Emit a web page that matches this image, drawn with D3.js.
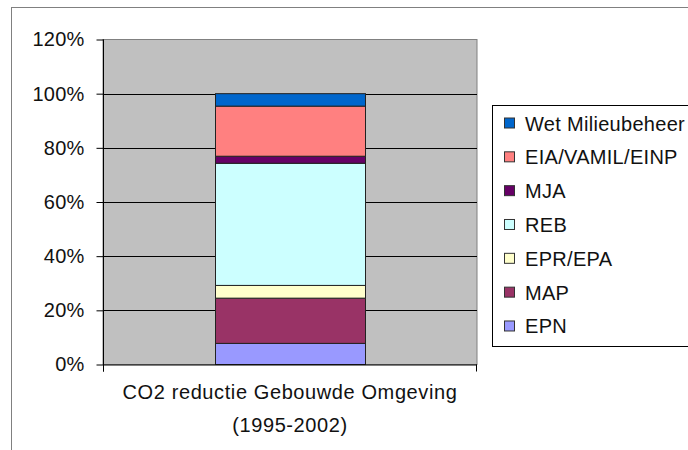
<!DOCTYPE html>
<html>
<head>
<meta charset="utf-8">
<script src="https://cdn.jsdelivr.net/npm/d3@7"></script>
<style>
  html, body { margin: 0; padding: 0; background: #fff; }
  svg { display: block; font-family: "Liberation Sans", Arial, sans-serif; }
</style>
</head>
<body>
<svg id="chart" width="688" height="450"></svg>
<script>
// ---- data ----
const categories = ["CO2 reductie Gebouwde Omgeving|(1995-2002)"];
const seriesNames = ["EPN", "MAP", "EPR/EPA", "REB", "MJA", "EIA/VAMIL/EINP", "Wet Milieubeheer"];
const seriesValues = [0.078, 0.167, 0.047, 0.451, 0.026, 0.185, 0.046];
const seriesColors = ["#9999FF", "#993366", "#FFFFCC", "#CCFFFF", "#660066", "#FF8080", "#0066CC"];
const yTicks = [0, 0.2, 0.4, 0.6, 0.8, 1.0, 1.2];
const yTickLabels = ["0%", "20%", "40%", "60%", "80%", "100%", "120%"];

const svg = d3.select("#chart");

// outer chart border
svg.append("rect").attr("x", 11.5).attr("y", 7.5).attr("width", 700).attr("height", 500)
  .attr("fill", "#fff").attr("stroke", "#808080").attr("stroke-width", 1);

const plot = { left: 103, right: 477, top: 39.5, bottom: 364.5 };

const y = d3.scaleLinear().domain([0, 1.2]).range([plot.bottom, plot.top]);
const x = d3.scaleBand().domain(categories).range([plot.left, plot.right]).padding(0.4275);

// plot area
svg.append("rect").attr("x", plot.left).attr("y", plot.top)
  .attr("width", plot.right - plot.left).attr("height", plot.bottom - plot.top)
  .attr("fill", "#C0C0C0").attr("stroke", "#808080").attr("stroke-width", 1);

// gridlines
svg.append("g").selectAll("line").data(yTicks.filter(d => d > 0 && d < 1.2)).join("line")
  .attr("x1", plot.left).attr("x2", plot.right)
  .attr("y1", d => Math.round(y(d)) + 0.5).attr("y2", d => Math.round(y(d)) + 0.5)
  .attr("stroke", "#000").attr("stroke-width", 1);

// stacked bar
const stackData = [Object.fromEntries([["cat", categories[0]], ...seriesNames.map((s, i) => [s, seriesValues[i]])])];
const stacked = d3.stack().keys(seriesNames)(stackData);
svg.append("g").selectAll("g").data(stacked).join("g")
  .attr("fill", (d, i) => seriesColors[i])
  .selectAll("rect").data(d => d).join("rect")
  .attr("x", d => Math.round(x(d.data.cat)) + 0.5)
  .attr("width", Math.round(x.bandwidth()))
  .attr("y", d => y(d[1]))
  .attr("height", d => y(d[0]) - y(d[1]))
  .attr("stroke", "#222").attr("stroke-width", 1);

// y axis
const yAxis = d3.axisLeft(y).tickValues(yTicks).tickFormat((d, i) => yTickLabels[i]).tickSize(7).tickPadding(12);
const yg = svg.append("g").attr("transform", `translate(${plot.left + 0.5},0)`).call(yAxis);
yg.select(".domain").remove();
yg.selectAll(".tick line").attr("stroke", "#000");
yg.selectAll(".tick text").attr("font-size", "20px").attr("fill", "#111")
  .attr("letter-spacing", "0.2px")
  .attr("font-family", "\"Liberation Sans\", Arial, sans-serif");
svg.append("line").attr("x1", plot.left + 0.5).attr("x2", plot.left + 0.5)
  .attr("y1", plot.top).attr("y2", plot.bottom + 7).attr("stroke", "#000");

// x axis
const xAxis = d3.axisBottom(x).tickSize(0).tickFormat("");
const xg = svg.append("g").attr("transform", `translate(0,${plot.bottom})`).call(xAxis);
xg.select(".domain").attr("stroke", "#000").attr("d", `M${plot.left},0.5H${plot.right}`);
[plot.left + 0.5, plot.right - 0.5].forEach(px => {
  svg.append("line").attr("x1", px).attr("x2", px).attr("y1", plot.bottom).attr("y2", plot.bottom + 7).attr("stroke", "#000");
});
const catText = svg.append("text")
  .attr("x", x(categories[0]) + x.bandwidth() / 2).attr("y", 399)
  .attr("text-anchor", "middle").attr("font-size", "20px").attr("fill", "#111")
  .attr("letter-spacing", "0.6px");
categories[0].split("|").forEach((t, i) => {
  catText.append("tspan").attr("x", x(categories[0]) + x.bandwidth() / 2).attr("y", 399 + i * 33).text(t);
});

// legend
const legend = svg.append("g");
legend.append("rect").attr("x", 492.5).attr("y", 105.5).attr("width", 250).attr("height", 241)
  .attr("fill", "#fff").attr("stroke", "#000").attr("stroke-width", 1);
const legendOrder = seriesNames.map((s, i) => i).reverse();
const li = legend.selectAll("g.item").data(legendOrder).join("g").attr("class", "item")
  .attr("transform", (d, i) => `translate(504, ${123 + i * 33.83})`);
li.append("rect").attr("x", 0.5).attr("y", -5).attr("width", 10).attr("height", 10)
  .attr("fill", d => seriesColors[d]).attr("stroke", "#333").attr("stroke-width", 1);
li.append("text").attr("x", 21).attr("y", 7.5).attr("font-size", "20px").attr("fill", "#111")
  .attr("letter-spacing", "0.3px")
  .text(d => seriesNames[d]);
</script>
</body>
</html>
